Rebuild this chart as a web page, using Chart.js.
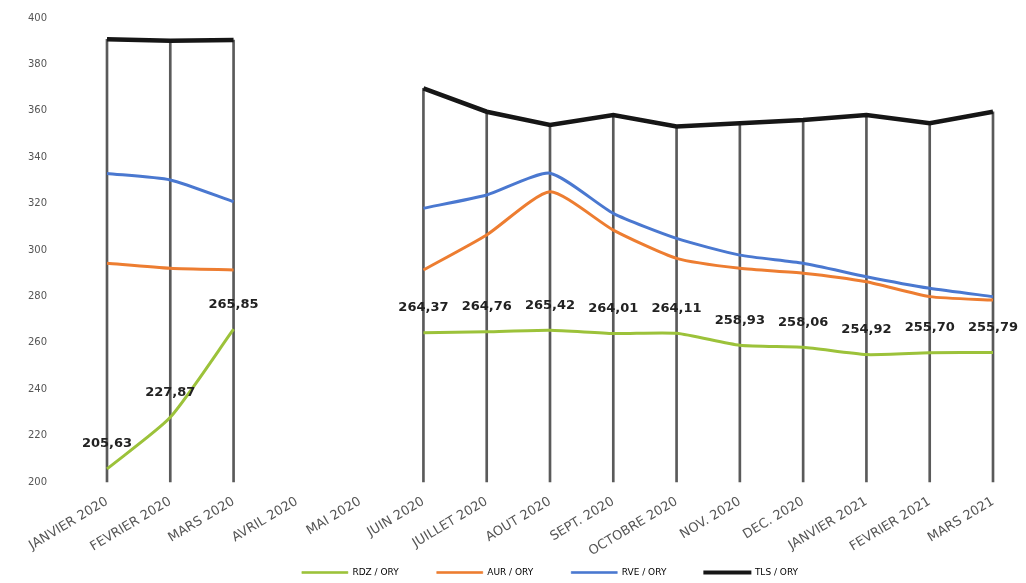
<!DOCTYPE html>
<html lang="fr">
<head>
<meta charset="UTF-8">
<title>RDZ / AUR / RVE / TLS - ORY</title>
<style>
  body { margin: 0; background: #fff; }
  canvas { display: block; }
</style>
<script src="https://cdn.jsdelivr.net/npm/chart.js"></script>
</head>
<body>
<canvas id="chart" width="1026" height="583"></canvas>
<script>
// categories (AVRIL / MAI 2020: no data)
const months = ['JANVIER 2020', 'FEVRIER 2020', 'MARS 2020', 'AVRIL 2020', 'MAI 2020',
  'JUIN 2020', 'JUILLET 2020', 'AOUT 2020', 'SEPT. 2020', 'OCTOBRE 2020', 'NOV. 2020',
  'DEC. 2020', 'JANVIER 2021', 'FEVRIER 2021', 'MARS 2021'];

// series values
const rdzOry = [205.63, 227.87, 265.85, null, null, 264.37, 264.76, 265.42, 264.01, 264.11, 258.93, 258.06, 254.92, 255.70, 255.79];
const aurOry = [294.3, 292.1, 291.4, null, null, 291.4, 306.5, 325.1, 308.6, 296.4, 292.1, 290.0, 286.3, 279.9, 278.4];
const rveOry = [333.0, 330.2, 320.8, null, null, 318.0, 323.7, 333.1, 315.8, 305.0, 297.8, 294.3, 288.5, 283.5, 279.9];
const tlsOry = [390.8, 390.2, 390.5, null, null, 369.7, 359.6, 353.9, 358.2, 353.2, 354.6, 356.0, 358.2, 354.6, 359.6];

const seriesNames = ['RDZ / ORY', 'AUR / ORY', 'RVE / ORY', 'TLS / ORY'];

// y axis
const yMin = 200;
const yMax = 400;
const yStep = 20;

const FONT = '"DejaVu Sans", sans-serif';

// value labels above the RDZ line (french decimal comma)
const valueLabels = {
  id: 'valueLabels',
  afterDatasetsDraw(chart) {
    const meta = chart.getDatasetMeta(0);
    const ctx = chart.ctx;
    ctx.save();
    ctx.font = 'bold 13px ' + FONT;
    ctx.fillStyle = '#222';
    ctx.textAlign = 'center';
    ctx.textBaseline = 'middle';
    rdzOry.forEach((v, i) => {
      if (v == null) return;
      const pt = meta.data[i];
      ctx.fillText(v.toFixed(2).replace('.', ','), pt.x, pt.y - 25);
    });
    ctx.restore();
  }
};

const ctx = document.getElementById('chart').getContext('2d');
new Chart(ctx, {
  type: 'line',
  data: {
    labels: months,
    datasets: [
      { label: seriesNames[0], data: rdzOry, borderColor: '#9cc23a', borderWidth: 3, tension: 0.2 },
      { label: seriesNames[1], data: aurOry, borderColor: '#ed7d31', borderWidth: 3, tension: 0.2 },
      { label: seriesNames[2], data: rveOry, borderColor: '#4a78d0', borderWidth: 3, tension: 0.2 },
      { label: seriesNames[3], data: tlsOry, borderColor: '#161616', borderWidth: 4.5, tension: 0 },
      // vertical drop lines from the top series down to the axis
      { type: 'bar', label: 'drop', data: tlsOry.map(v => v == null ? null : [yMin, v]),
        backgroundColor: '#5a5a5a', barThickness: 2, clip: false, order: 10 }
    ]
  },
  options: {
    responsive: false,
    animation: false,
    layout: { padding: { top: 18, right: 33, left: 28, bottom: 0 } },
    elements: { point: { radius: 0, hoverRadius: 0 } },
    scales: {
      x: {
        offset: false,
        grid: { display: false, drawTicks: false },
        border: { display: false },
        ticks: {
          autoSkip: false, minRotation: 31, maxRotation: 31, padding: 12,
          color: '#555', font: { family: FONT, size: 13 }
        },
        afterFit(scale) {
          scale.height = 48;
          // rotated labels run down into the (empty) top of the legend box
          scale._computeLabelArea = () => undefined;
        }
      },
      y: {
        min: yMin, max: yMax,
        grid: { display: false, drawTicks: false },
        border: { display: false },
        ticks: { stepSize: yStep, padding: 6, crossAlign: 'far', color: '#555', font: { family: FONT, size: 10 } },
        afterFit(scale) { scale.width = 79; }
      }
    },
    plugins: {
      tooltip: { enabled: false },
      legend: {
        position: 'bottom',
        fullSize: false,
        maxHeight: 53,
        labels: {
          boxWidth: 46, boxHeight: 2, padding: 38,
          color: '#555', font: { family: FONT, size: 9 },
          generateLabels(chart) {
            return chart.data.datasets.slice(0, 4).map((ds, i) => ({
              text: ds.label,
              fillStyle: ds.borderColor,
              strokeStyle: ds.borderColor,
              lineWidth: i === 3 ? 2 : 0.6,
              datasetIndex: i,
              hidden: false
            }));
          }
        }
      }
    }
  },
  plugins: [valueLabels]
});
</script>
</body>
</html>
